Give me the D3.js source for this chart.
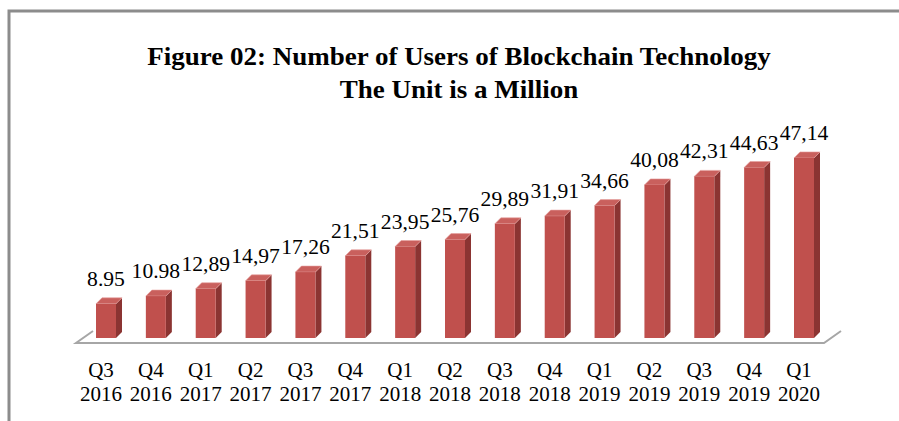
<!DOCTYPE html>
<html>
<head>
<meta charset="utf-8">
<script src="https://cdn.jsdelivr.net/npm/d3@7"></script>
<style>
  body { margin: 0; background: #fff; }
  text { font-family: "Liberation Serif", "Times New Roman", serif; fill: #000; }
</style>
</head>
<body>
<svg id="chart" width="899" height="421"></svg>
<script>
// data
var quarters = ["Q3", "Q4", "Q1", "Q2", "Q3", "Q4", "Q1", "Q2", "Q3", "Q4", "Q1", "Q2", "Q3", "Q4", "Q1"];
var years = ["2016", "2016", "2017", "2017", "2017", "2017", "2018", "2018", "2018", "2018", "2019", "2019", "2019", "2019", "2020"];
var users = [8.95, 10.98, 12.89, 14.97, 17.26, 21.51, 23.95, 25.76, 29.89, 31.91, 34.66, 40.08, 42.31, 44.63, 47.14];
var valueLabels = ["8.95", "10.98", "12,89", "14,97", "17,26", "21,51", "23,95", "25,76", "29,89", "31,91", "34,66", "40,08", "42,31", "44,63", "47,14"];

var cats = quarters.map(function (q, i) { return q + " " + years[i]; });
var base = 338;

var svg = d3.select("svg#chart");

// frame
svg.append("path")
  .attr("d", "M9,421 L9,11 L899,11")
  .attr("fill", "none")
  .attr("stroke", "#8c8c8c")
  .attr("stroke-width", 3);

// title (the original type is a little widened)
svg.append("text")
  .attr("text-anchor", "middle")
  .attr("font-weight", "bold")
  .attr("font-size", "25px")
  .attr("transform", "translate(459,65) scale(1.08,1)")
  .text("Figure 02: Number of Users of Blockchain Technology");
svg.append("text")
  .attr("text-anchor", "middle")
  .attr("font-weight", "bold")
  .attr("font-size", "25px")
  .attr("transform", "translate(459,98) scale(1.08,1)")
  .text("The Unit is a Million");

// scales
var x = d3.scalePoint()
  .domain(cats)
  .range([106, 804]);
var y = d3.scaleLinear()
  .domain([0, 50])
  .range([base, base - 191]);

// floor
svg.append("path")
  .attr("d", "M93,331 L76,343 L824,343 L841,331")
  .attr("fill", "none")
  .attr("stroke", "#a6a6a6")
  .attr("stroke-width", 2);

var w = 10, d = 6;

var bars = svg.selectAll(".bar")
  .data(users)
  .enter().append("g")
  .attr("class", "bar");

// side
bars.append("path")
  .attr("fill", "#8b3432")
  .attr("d", function (v, i) {
    var cx = x(cats[i]), t = y(v);
    return "M" + (cx + w) + "," + t + " L" + (cx + w + d) + "," + (t - d) +
      " L" + (cx + w + d) + "," + (base - d) + " L" + (cx + w) + "," + base + "Z";
  });
// top
bars.append("path")
  .attr("fill", "#c9605d")
  .attr("stroke", "#e6a09e")
  .attr("stroke-width", 0.6)
  .attr("d", function (v, i) {
    var cx = x(cats[i]), t = y(v);
    return "M" + (cx - w) + "," + t + " L" + (cx - w + d) + "," + (t - d) +
      " L" + (cx + w + d) + "," + (t - d) + " L" + (cx + w) + "," + t + "Z";
  });
// front
bars.append("rect")
  .attr("fill", "#c0504d")
  .attr("x", function (v, i) { return x(cats[i]) - w; })
  .attr("width", 2 * w)
  .attr("y", function (v) { return y(v); })
  .attr("height", function (v) { return base - y(v); });

// value labels
svg.selectAll(".val")
  .data(users)
  .enter().append("text")
  .attr("class", "val")
  .attr("text-anchor", "middle")
  .attr("font-size", "20px")
  .attr("transform", function (v, i) {
    return "translate(" + x(cats[i]) + "," + (y(v) - 18) + ") scale(1.08,1)";
  })
  .text(function (v, i) { return valueLabels[i]; });

// category labels
var ticks = svg.selectAll(".tick")
  .data(cats)
  .enter().append("text")
  .attr("class", "tick")
  .attr("text-anchor", "middle")
  .attr("font-size", "21px");
ticks.append("tspan")
  .attr("x", function (c) { return x(c) - 5; })
  .attr("y", 377)
  .text(function (c, i) { return quarters[i]; });
ticks.append("tspan")
  .attr("x", function (c) { return x(c) - 5; })
  .attr("y", 401)
  .text(function (c, i) { return years[i]; });
</script>
</body>
</html>
